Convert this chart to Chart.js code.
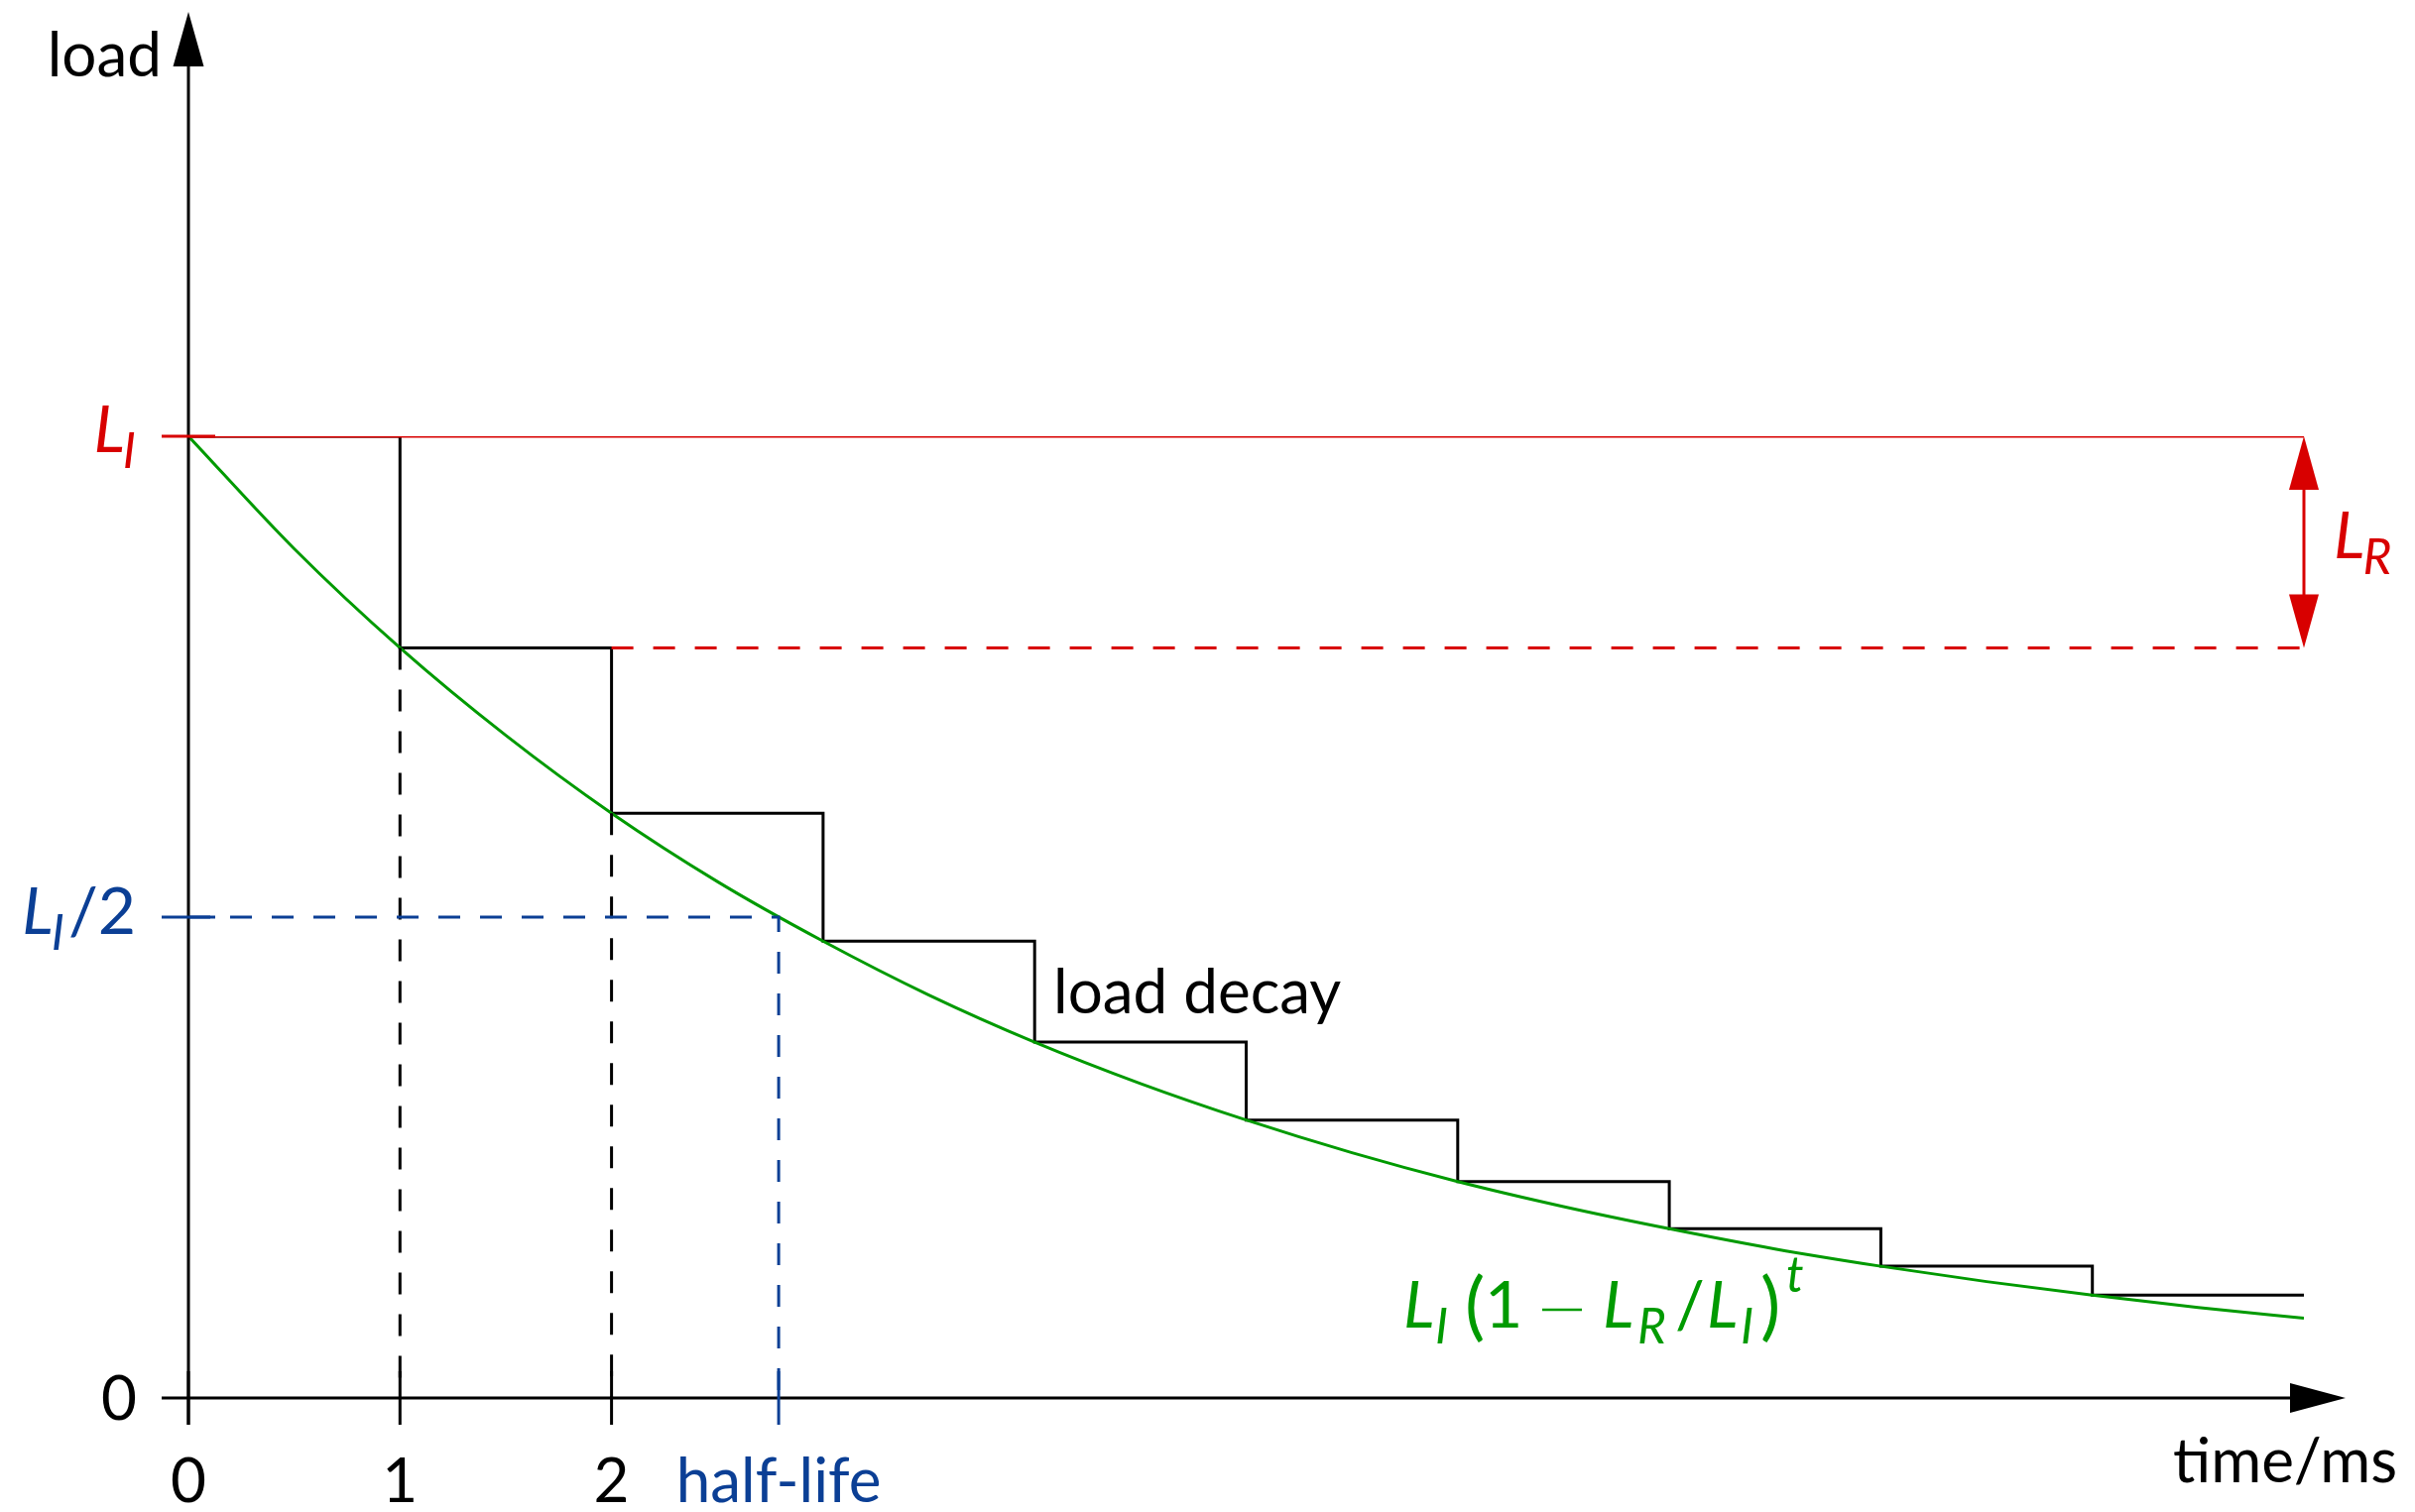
<!DOCTYPE html>
<html>
<head>
<meta charset="utf-8">
<script src="https://cdn.jsdelivr.net/npm/chart.js@4.4.1/dist/chart.umd.min.js"></script>
<style>
  body { margin: 0; background: #fff; }
  #wrap { width: 2435px; height: 1525px; position: relative; }
</style>
</head>
<body>
<div id="wrap"><canvas id="chart"></canvas></div>
<script>
// values
const stepTimes = [0, 1, 2, 3, 4, 5, 6, 7, 8, 9, 10];
const stepLoads = [1, 0.78, 0.608, 0.475, 0.37, 0.289, 0.225, 0.176, 0.137, 0.107, 0.107];
const curveTimes = [0, 0.5, 1, 1.5, 2, 2.5, 3, 3.5, 4, 4.5, 5, 5.5, 6, 6.5, 7, 7.5, 8, 8.5, 9, 9.5, 10];
const curveLoads = [1, 0.883, 0.78, 0.689, 0.608, 0.537, 0.475, 0.419, 0.37, 0.327, 0.289, 0.255, 0.225, 0.199, 0.176, 0.155, 0.137, 0.121, 0.107, 0.094, 0.083];
const initialLoad = 1;
const halfLoad = 0.5;
const halfLife = 2.79;
const xTicks = [0, 1, 2];
const xTickLabels = ['0', '1', '2'];

const RED = '#d80000';
const BLUE = '#0b3f95';
const GREEN = '#009a00';
const FONT = 'Lato';

const pts = (xs, ys) => xs.map((x, i) => ({ x: x, y: ys[i] }));
const dash = [22, 20];

// draws a run of text pieces (italic, sub/superscript); dx = fixed offset from start
function drawRuns(ctx, runs, x, y, size, color, align) {
  const parts = runs.map(r => {
    const s = r.sub || r.sup ? size * 0.75 : size * (r.scale || 1);
    const f = (r.it ? 'italic ' : '') + s + 'px ' + FONT;
    ctx.font = f;
    return { r, f, w: ctx.measureText(r.t).width + (r.gap || 0) };
  });
  const total = parts.reduce((a, p) => a + p.w, 0);
  let cx = align === 'right' ? x - total : align === 'center' ? x - total / 2 : x;
  const start = cx;
  ctx.fillStyle = color;
  ctx.textBaseline = 'alphabetic';
  ctx.textAlign = 'left';
  parts.forEach(p => {
    ctx.font = p.f;
    let dy = 0;
    if (p.r.sub) dy = size * 0.24;
    if (p.r.sup) dy = -size * 0.55;
    if (p.r.dx !== undefined) cx = start + p.r.dx;
    ctx.fillText(p.r.t, cx, y + dy + (p.r.dy || 0));
    cx += p.w;
  });
}

function tri(ctx, a, b, c, color) {
  ctx.fillStyle = color;
  ctx.beginPath();
  ctx.moveTo(a[0], a[1]);
  ctx.lineTo(b[0], b[1]);
  ctx.lineTo(c[0], c[1]);
  ctx.closePath();
  ctx.fill();
}

function seg(ctx, x1, y1, x2, y2, color, w) {
  ctx.strokeStyle = color;
  ctx.lineWidth = w || 3;
  ctx.setLineDash([]);
  ctx.beginPath();
  ctx.moveTo(x1, y1);
  ctx.lineTo(x2, y2);
  ctx.stroke();
}

const decor = {
  id: 'decor',
  afterDatasetsDraw(chart) {
    const ctx = chart.ctx;
    const xs = v => chart.scales.x.getPixelForValue(v);
    const ys = v => chart.scales.y.getPixelForValue(v);
    const x0 = xs(0), y0 = ys(0);
    ctx.save();
    // axes
    seg(ctx, x0, y0 + 27, x0, 60, '#000');
    tri(ctx, [x0, 12], [x0 - 15.5, 67], [x0 + 15.5, 67], '#000');
    seg(ctx, x0 - 27, y0, 2315, y0, '#000');
    tri(ctx, [2365, y0], [2309, y0 - 15], [2309, y0 + 15], '#000');
    // y ticks
    seg(ctx, x0 - 27, ys(initialLoad), x0 + 27, ys(initialLoad), RED);
    seg(ctx, x0 - 27, ys(halfLoad), x0 + 27, ys(halfLoad), BLUE);
    // x ticks
    xTicks.forEach(t => seg(ctx, xs(t), y0 - 27, xs(t), y0 + 27, '#000'));
    seg(ctx, xs(halfLife), y0 - 27, xs(halfLife), y0 + 27, BLUE);
    // L_R arrow
    const xa = xs(10), ya = ys(initialLoad), yb = ys(stepLoads[1]);
    seg(ctx, xa, ya + 40, xa, yb - 40, RED);
    tri(ctx, [xa, ya], [xa - 15, ya + 54], [xa + 15, ya + 54], RED);
    tri(ctx, [xa, yb], [xa - 15, yb - 54], [xa + 15, yb - 54], RED);

    const S = 62;
    // axis titles
    drawRuns(ctx, [{ t: 'load' }], 163, 77, S, '#000', 'right');
    drawRuns(ctx, [{ t: 'time/ms' }], 2417, 1495, S, '#000', 'right');
    // x tick labels
    xTicks.forEach((t, i) => drawRuns(ctx, [{ t: xTickLabels[i] }], xs(t), 1515, S, '#000', 'center'));
    drawRuns(ctx, [{ t: 'half-life' }], xs(halfLife), 1515, S, BLUE, 'center');
    // y tick labels
    drawRuns(ctx, [{ t: '0' }], 138, y0 + 22, S, '#000', 'right');
    drawRuns(ctx, [{ t: 'L', it: true, gap: -2 }, { t: 'I', it: true, sub: true }], 137, ys(initialLoad) + 16, 66, RED, 'right');
    drawRuns(ctx, [{ t: 'L', it: true, gap: -2 }, { t: 'I', it: true, sub: true, gap: 4 }, { t: '/2' }], 137, ys(halfLoad) + 17, 66, BLUE, 'right');
    // annotations
    drawRuns(ctx, [{ t: 'L', it: true, gap: -2 }, { t: 'R', it: true, sub: true }], 2353, 563, 66, RED, 'left');
    drawRuns(ctx, [{ t: 'load decay' }], 1062, 1022, S, '#000', 'left');
    const fx = 1415, fy = 1339;
    drawRuns(ctx, [
      { t: 'L', it: true, dx: 0 }, { t: 'I', it: true, sub: true, dx: 32 },
      { t: '(', scale: 1.15, dx: 62, dy: 4 }, { t: '1', dx: 82 },
      { t: 'L', it: true, dx: 201 }, { t: 'R', it: true, sub: true, dx: 236 },
      { t: '/', dx: 274 }, { t: 'L', it: true, dx: 306 }, { t: 'I', it: true, sub: true, dx: 340 },
      { t: ')', scale: 1.15, dx: 360, dy: 4 },
      { t: 't', it: true, sup: true, dx: 386 }
    ], fx, fy, 66, GREEN, 'left');
    // minus sign of the formula
    seg(ctx, fx + 140, fy - 18, fx + 180, fy - 18, GREEN, 2.6);
    ctx.restore();
  }
};

new Chart(document.getElementById('chart'), {
  type: 'scatter',
  data: {
    datasets: [
      {
        label: 'initial load',
        data: pts([0, 10], [initialLoad, initialLoad]),
        showLine: true, borderColor: RED, borderWidth: 3, pointRadius: 0
      },
      {
        label: 'load after one step',
        data: pts([2, 10], [stepLoads[1], stepLoads[1]]),
        showLine: true, borderColor: RED, borderWidth: 3, borderDash: dash, pointRadius: 0
      },
      {
        label: 'half-life',
        data: pts([0, halfLife, halfLife], [halfLoad, halfLoad, 0]),
        showLine: true, borderColor: BLUE, borderWidth: 3, borderDash: dash, pointRadius: 0
      },
      {
        label: 'step 1',
        data: pts([1, 1], [stepLoads[1], 0]),
        showLine: true, borderColor: '#000', borderWidth: 3, borderDash: dash, pointRadius: 0
      },
      {
        label: 'step 2',
        data: pts([2, 2], [stepLoads[2], 0]),
        showLine: true, borderColor: '#000', borderWidth: 3, borderDash: dash, pointRadius: 0
      },
      {
        label: 'decay curve',
        data: pts(curveTimes, curveLoads),
        showLine: true, borderColor: GREEN, borderWidth: 3, pointRadius: 0,
        cubicInterpolationMode: 'monotone'
      },
      {
        label: 'load decay',
        data: pts(stepTimes, stepLoads),
        showLine: true, stepped: 'before', borderColor: '#000', borderWidth: 3, pointRadius: 0
      }
    ]
  },
  options: {
    responsive: true,
    maintainAspectRatio: false,
    animation: false,
    layout: { padding: { left: 190, right: 112, top: 440, bottom: 115 } },
    plugins: { legend: { display: false }, tooltip: { enabled: false } },
    scales: {
      x: { type: 'linear', min: 0, max: 10, display: false },
      y: { type: 'linear', min: 0, max: 1, display: false }
    },
    elements: { line: { borderCapStyle: 'butt' } }
  },
  plugins: [decor]
});
</script>
</body>
</html>
